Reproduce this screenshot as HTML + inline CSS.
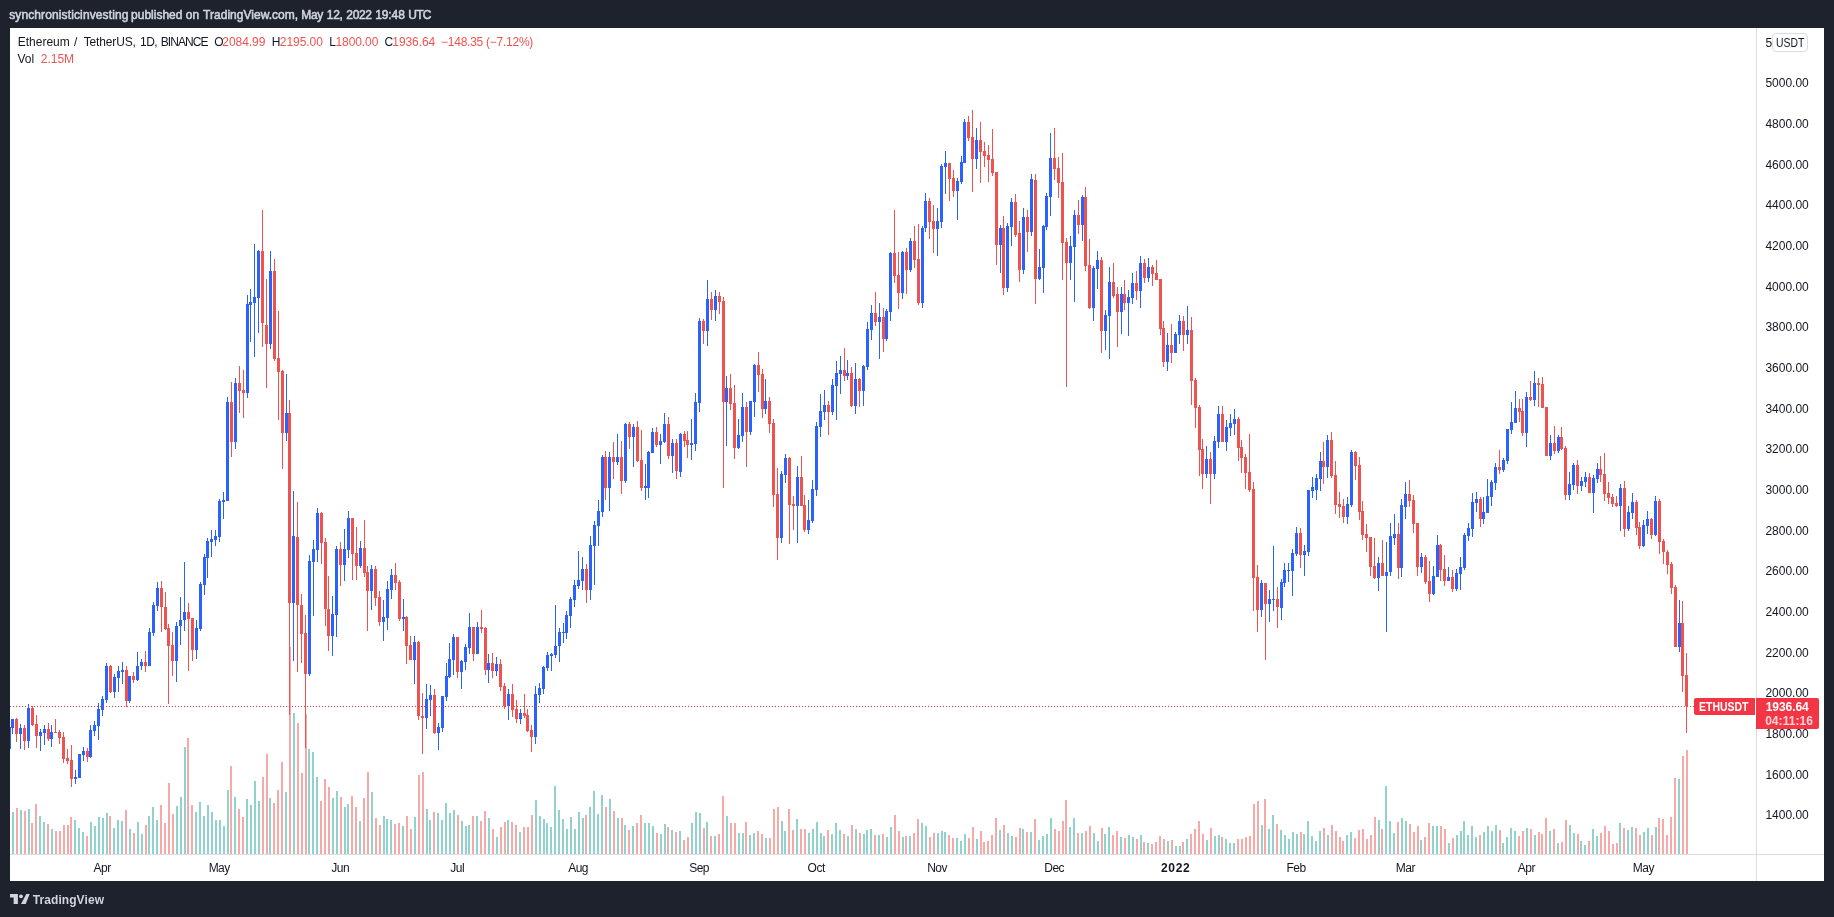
<!DOCTYPE html>
<html><head><meta charset="utf-8"><title>ETHUSDT</title>
<style>
html,body{margin:0;padding:0}
body{width:1834px;height:917px;background:#1e222d;position:relative;overflow:hidden;font-family:"Liberation Sans",sans-serif}
#pane{position:absolute;left:10px;top:28px;width:1814px;height:853px;background:#fff}
span{position:absolute;white-space:nowrap;line-height:14px}
.box{position:absolute}
</style></head><body>
<div id="pane"></div>
<svg width="1834" height="917" viewBox="0 0 1834 917" style="position:absolute;left:0;top:0" shape-rendering="crispEdges"><path d="M12 812h2v42h-2zM20 810h2v44h-2zM28 809h2v45h-2zM39 816h2v38h-2zM43 822h2v32h-2zM51 829h2v25h-2zM74 820h2v34h-2zM78 828h2v26h-2zM82 832h2v22h-2zM90 822h2v32h-2zM94 826h2v28h-2zM98 817h2v37h-2zM102 818h2v36h-2zM106 813h2v41h-2zM113 828h2v26h-2zM117 820h2v34h-2zM121 821h2v33h-2zM129 829h2v25h-2zM137 822h2v32h-2zM141 834h2v20h-2zM148 816h2v38h-2zM152 807h2v47h-2zM156 820h2v34h-2zM176 806h2v48h-2zM180 797h2v57h-2zM184 747h2v107h-2zM195 812h2v42h-2zM199 802h2v52h-2zM203 816h2v38h-2zM207 805h2v49h-2zM211 812h2v42h-2zM215 820h2v34h-2zM219 820h2v34h-2zM223 826h2v28h-2zM227 790h2v64h-2zM234 797h2v57h-2zM246 799h2v55h-2zM250 805h2v49h-2zM254 781h2v73h-2zM258 801h2v53h-2zM269 798h2v56h-2zM285 792h2v62h-2zM293 713h2v141h-2zM308 749h2v105h-2zM312 752h2v102h-2zM316 777h2v77h-2zM332 798h2v56h-2zM336 791h2v63h-2zM344 807h2v47h-2zM347 804h2v50h-2zM359 821h2v33h-2zM371 792h2v62h-2zM383 816h2v38h-2zM386 819h2v35h-2zM390 820h2v34h-2zM402 826h2v28h-2zM414 817h2v37h-2zM426 809h2v45h-2zM429 820h2v34h-2zM437 813h2v41h-2zM441 820h2v34h-2zM445 803h2v51h-2zM449 813h2v41h-2zM453 810h2v44h-2zM461 821h2v33h-2zM465 826h2v28h-2zM468 825h2v29h-2zM476 816h2v38h-2zM488 818h2v36h-2zM496 837h2v17h-2zM507 820h2v34h-2zM519 832h2v22h-2zM535 800h2v54h-2zM539 816h2v38h-2zM543 819h2v35h-2zM546 823h2v31h-2zM550 827h2v27h-2zM554 786h2v68h-2zM558 810h2v44h-2zM562 819h2v35h-2zM566 829h2v25h-2zM570 817h2v37h-2zM574 829h2v25h-2zM578 812h2v42h-2zM582 818h2v36h-2zM589 807h2v47h-2zM593 791h2v63h-2zM597 814h2v40h-2zM601 795h2v59h-2zM609 799h2v55h-2zM617 818h2v36h-2zM624 825h2v29h-2zM632 826h2v28h-2zM644 823h2v31h-2zM648 823h2v31h-2zM652 826h2v28h-2zM660 834h2v20h-2zM664 824h2v30h-2zM671 830h2v24h-2zM679 831h2v23h-2zM691 823h2v31h-2zM695 812h2v42h-2zM699 813h2v41h-2zM706 822h2v32h-2zM714 836h2v18h-2zM726 816h2v38h-2zM738 833h2v21h-2zM742 833h2v21h-2zM749 835h2v19h-2zM753 833h2v21h-2zM765 838h2v16h-2zM781 821h2v33h-2zM784 831h2v23h-2zM796 819h2v35h-2zM808 833h2v21h-2zM812 829h2v25h-2zM816 822h2v32h-2zM820 833h2v21h-2zM823 836h2v18h-2zM831 834h2v20h-2zM835 823h2v31h-2zM839 830h2v24h-2zM847 836h2v18h-2zM855 829h2v25h-2zM863 834h2v20h-2zM866 830h2v24h-2zM870 829h2v25h-2zM878 835h2v19h-2zM886 837h2v17h-2zM890 827h2v27h-2zM902 837h2v17h-2zM909 836h2v18h-2zM921 823h2v31h-2zM925 826h2v28h-2zM937 833h2v21h-2zM941 831h2v23h-2zM944 832h2v22h-2zM956 838h2v16h-2zM960 841h2v13h-2zM964 834h2v20h-2zM976 839h2v15h-2zM999 830h2v24h-2zM1007 833h2v21h-2zM1011 836h2v18h-2zM1022 829h2v25h-2zM1030 832h2v22h-2zM1038 840h2v14h-2zM1042 836h2v18h-2zM1046 834h2v20h-2zM1050 818h2v36h-2zM1069 827h2v27h-2zM1073 818h2v36h-2zM1081 833h2v21h-2zM1093 833h2v21h-2zM1097 841h2v13h-2zM1104 834h2v20h-2zM1108 827h2v27h-2zM1120 837h2v17h-2zM1128 835h2v19h-2zM1132 837h2v17h-2zM1140 835h2v19h-2zM1147 843h2v11h-2zM1167 841h2v13h-2zM1175 846h2v8h-2zM1179 846h2v8h-2zM1186 839h2v15h-2zM1206 840h2v14h-2zM1214 836h2v18h-2zM1218 835h2v19h-2zM1225 839h2v15h-2zM1229 843h2v11h-2zM1233 843h2v11h-2zM1261 825h2v29h-2zM1268 829h2v25h-2zM1272 815h2v39h-2zM1280 830h2v24h-2zM1284 835h2v19h-2zM1288 839h2v15h-2zM1292 832h2v22h-2zM1296 834h2v20h-2zM1303 834h2v20h-2zM1307 821h2v33h-2zM1311 836h2v18h-2zM1315 841h2v13h-2zM1319 831h2v23h-2zM1327 835h2v19h-2zM1346 835h2v19h-2zM1350 832h2v22h-2zM1378 820h2v34h-2zM1385 786h2v68h-2zM1389 821h2v33h-2zM1393 833h2v21h-2zM1401 818h2v36h-2zM1405 821h2v33h-2zM1420 840h2v14h-2zM1432 826h2v28h-2zM1436 826h2v28h-2zM1448 843h2v11h-2zM1456 835h2v19h-2zM1460 831h2v23h-2zM1463 821h2v33h-2zM1467 835h2v19h-2zM1471 826h2v28h-2zM1475 837h2v17h-2zM1483 832h2v22h-2zM1487 826h2v28h-2zM1491 831h2v23h-2zM1495 825h2v29h-2zM1502 843h2v11h-2zM1506 837h2v17h-2zM1510 828h2v26h-2zM1514 831h2v23h-2zM1526 828h2v26h-2zM1534 835h2v19h-2zM1549 831h2v23h-2zM1557 843h2v11h-2zM1569 825h2v29h-2zM1573 833h2v21h-2zM1580 841h2v13h-2zM1584 845h2v9h-2zM1592 829h2v25h-2zM1596 836h2v18h-2zM1619 823h2v31h-2zM1627 830h2v24h-2zM1631 827h2v27h-2zM1643 832h2v22h-2zM1647 828h2v26h-2zM1655 827h2v27h-2zM1678 779h2v75h-2z" fill="#92d2cc"/><path d="M16 808h2v46h-2zM24 811h2v43h-2zM31 823h2v31h-2zM35 804h2v50h-2zM47 824h2v30h-2zM55 831h2v23h-2zM59 831h2v23h-2zM63 825h2v29h-2zM67 825h2v29h-2zM70 817h2v37h-2zM86 836h2v18h-2zM109 816h2v38h-2zM125 810h2v44h-2zM133 833h2v21h-2zM145 825h2v29h-2zM160 805h2v49h-2zM164 823h2v31h-2zM168 783h2v71h-2zM172 814h2v40h-2zM187 738h2v116h-2zM191 805h2v49h-2zM230 766h2v88h-2zM238 809h2v45h-2zM242 817h2v37h-2zM262 777h2v77h-2zM266 754h2v100h-2zM273 803h2v51h-2zM277 790h2v64h-2zM281 762h2v92h-2zM289 647h2v207h-2zM297 723h2v131h-2zM301 773h2v81h-2zM305 714h2v140h-2zM320 801h2v53h-2zM324 779h2v75h-2zM328 787h2v67h-2zM340 797h2v57h-2zM351 796h2v58h-2zM355 807h2v47h-2zM363 798h2v56h-2zM367 772h2v82h-2zM375 818h2v36h-2zM379 825h2v29h-2zM394 824h2v30h-2zM398 823h2v31h-2zM406 816h2v38h-2zM410 829h2v25h-2zM418 775h2v79h-2zM422 772h2v82h-2zM433 812h2v42h-2zM457 815h2v39h-2zM472 816h2v38h-2zM480 821h2v33h-2zM484 811h2v43h-2zM492 829h2v25h-2zM500 827h2v27h-2zM504 822h2v32h-2zM511 822h2v32h-2zM515 825h2v29h-2zM523 827h2v27h-2zM527 827h2v27h-2zM531 815h2v39h-2zM585 815h2v39h-2zM605 807h2v47h-2zM613 811h2v43h-2zM621 818h2v36h-2zM628 830h2v24h-2zM636 823h2v31h-2zM640 815h2v39h-2zM656 833h2v21h-2zM667 827h2v27h-2zM675 832h2v22h-2zM683 840h2v14h-2zM687 837h2v17h-2zM703 828h2v26h-2zM710 836h2v18h-2zM718 834h2v20h-2zM722 796h2v58h-2zM730 823h2v31h-2zM734 823h2v31h-2zM745 822h2v32h-2zM757 831h2v23h-2zM761 834h2v20h-2zM769 838h2v16h-2zM773 809h2v45h-2zM777 807h2v47h-2zM788 809h2v45h-2zM792 830h2v24h-2zM800 829h2v25h-2zM804 829h2v25h-2zM827 830h2v24h-2zM843 834h2v20h-2zM851 825h2v29h-2zM859 833h2v21h-2zM874 835h2v19h-2zM882 834h2v20h-2zM894 815h2v39h-2zM898 831h2v23h-2zM905 836h2v18h-2zM913 833h2v21h-2zM917 819h2v35h-2zM929 837h2v17h-2zM933 833h2v21h-2zM948 835h2v19h-2zM952 838h2v16h-2zM968 838h2v16h-2zM972 827h2v27h-2zM980 831h2v23h-2zM983 842h2v12h-2zM987 841h2v13h-2zM991 835h2v19h-2zM995 818h2v36h-2zM1003 825h2v29h-2zM1015 837h2v17h-2zM1019 828h2v26h-2zM1026 832h2v22h-2zM1034 819h2v35h-2zM1054 829h2v25h-2zM1058 831h2v23h-2zM1062 821h2v33h-2zM1065 800h2v54h-2zM1077 833h2v21h-2zM1085 831h2v23h-2zM1089 826h2v28h-2zM1101 828h2v26h-2zM1112 835h2v19h-2zM1116 831h2v23h-2zM1124 838h2v16h-2zM1136 839h2v15h-2zM1143 842h2v12h-2zM1151 844h2v10h-2zM1155 842h2v12h-2zM1159 836h2v18h-2zM1163 839h2v15h-2zM1171 840h2v14h-2zM1182 842h2v12h-2zM1190 834h2v20h-2zM1194 829h2v25h-2zM1198 821h2v33h-2zM1202 834h2v20h-2zM1210 828h2v26h-2zM1221 837h2v17h-2zM1237 839h2v15h-2zM1241 839h2v15h-2zM1245 837h2v17h-2zM1249 836h2v18h-2zM1253 804h2v50h-2zM1257 801h2v53h-2zM1264 799h2v55h-2zM1276 824h2v30h-2zM1300 832h2v22h-2zM1323 828h2v26h-2zM1331 825h2v29h-2zM1335 831h2v23h-2zM1339 837h2v17h-2zM1342 841h2v13h-2zM1354 838h2v16h-2zM1358 830h2v24h-2zM1362 829h2v25h-2zM1366 839h2v15h-2zM1370 835h2v19h-2zM1374 817h2v37h-2zM1381 829h2v25h-2zM1397 822h2v32h-2zM1409 824h2v30h-2zM1413 832h2v22h-2zM1417 826h2v28h-2zM1424 837h2v17h-2zM1428 823h2v31h-2zM1440 826h2v28h-2zM1444 829h2v25h-2zM1452 838h2v16h-2zM1479 835h2v19h-2zM1499 830h2v24h-2zM1518 836h2v18h-2zM1522 831h2v23h-2zM1530 829h2v25h-2zM1538 832h2v22h-2zM1541 834h2v20h-2zM1545 818h2v36h-2zM1553 829h2v25h-2zM1561 842h2v12h-2zM1565 820h2v34h-2zM1577 834h2v20h-2zM1588 841h2v13h-2zM1600 833h2v21h-2zM1604 826h2v28h-2zM1608 831h2v23h-2zM1612 844h2v10h-2zM1616 843h2v11h-2zM1623 828h2v26h-2zM1635 828h2v26h-2zM1639 835h2v19h-2zM1651 835h2v19h-2zM1658 818h2v36h-2zM1662 819h2v35h-2zM1666 835h2v19h-2zM1670 817h2v37h-2zM1674 778h2v76h-2zM1682 756h2v98h-2zM1686 750h2v104h-2z" fill="#f7a9a7"/><path d="M16 718h1v24h-1zM15 719h3v15h-3zM24 725h1v25h-1zM23 728h3v13h-3zM32 706h1v20h-1zM31 708h3v17h-3zM36 715h1v33h-1zM35 724h3v12h-3zM48 723h1v18h-1zM47 729h3v10h-3zM55 719h1v14h-1zM54 732h3v1h-3zM59 730h1v14h-1zM58 732h3v6h-3zM63 732h1v31h-1zM62 737h3v22h-3zM67 749h1v15h-1zM66 758h3v3h-3zM71 745h1v42h-1zM70 760h3v19h-3zM87 748h1v14h-1zM86 751h3v6h-3zM110 665h1v28h-1zM109 666h3v26h-3zM126 666h1v41h-1zM125 670h3v31h-3zM133 672h1v11h-1zM132 676h3v4h-3zM145 651h1v21h-1zM144 662h3v4h-3zM161 581h1v51h-1zM160 588h3v19h-3zM165 592h1v38h-1zM164 607h3v22h-3zM168 624h1v80h-1zM167 628h3v18h-3zM172 632h1v44h-1zM171 645h3v16h-3zM188 603h1v68h-1zM187 612h3v7h-3zM192 618h1v43h-1zM191 618h3v32h-3zM231 382h1v75h-1zM230 402h3v40h-3zM239 366h1v47h-1zM238 383h3v8h-3zM243 370h1v48h-1zM242 390h3v3h-3zM262 210h1v137h-1zM261 251h3v72h-3zM266 279h1v109h-1zM265 325h3v19h-3zM274 259h1v102h-1zM273 271h3v88h-3zM278 311h1v109h-1zM277 358h3v14h-3zM282 370h1v99h-1zM281 371h3v62h-3zM289 400h1v315h-1zM288 413h3v190h-3zM297 502h1v170h-1zM296 537h3v68h-3zM301 594h1v69h-1zM300 605h3v29h-3zM305 615h1v133h-1zM304 633h3v41h-3zM321 512h1v52h-1zM320 513h3v30h-3zM325 538h1v88h-1zM324 542h3v67h-3zM328 576h1v75h-1zM327 609h3v27h-3zM340 542h1v44h-1zM339 549h3v16h-3zM352 518h1v62h-1zM351 518h3v36h-3zM356 527h1v53h-1zM355 553h3v13h-3zM364 520h1v57h-1zM363 548h3v25h-3zM367 566h1v65h-1zM366 572h3v19h-3zM375 566h1v40h-1zM374 569h3v29h-3zM379 591h1v35h-1zM378 597h3v25h-3zM395 563h1v27h-1zM394 575h3v8h-3zM399 580h1v41h-1zM398 582h3v37h-3zM406 616h1v48h-1zM405 617h3v29h-3zM410 636h1v24h-1zM409 645h3v15h-3zM418 641h1v79h-1zM417 642h3v74h-3zM422 693h1v61h-1zM421 716h3v2h-3zM434 689h1v45h-1zM433 695h3v38h-3zM457 637h1v41h-1zM456 637h3v35h-3zM473 627h1v34h-1zM472 627h3v27h-3zM481 610h1v23h-1zM480 627h3v2h-3zM485 627h1v48h-1zM484 628h3v42h-3zM492 653h1v25h-1zM491 663h3v8h-3zM500 659h1v32h-1zM499 664h3v23h-3zM504 683h1v26h-1zM503 686h3v20h-3zM512 684h1v33h-1zM511 694h3v16h-3zM516 700h1v23h-1zM515 709h3v10h-3zM524 694h1v24h-1zM523 713h3v3h-3zM527 709h1v23h-1zM526 715h3v16h-3zM531 725h1v27h-1zM530 730h3v7h-3zM586 564h1v39h-1zM585 569h3v21h-3zM605 451h1v49h-1zM604 457h3v31h-3zM613 442h1v37h-1zM612 457h3v5h-3zM621 441h1v53h-1zM620 457h3v24h-3zM629 422h1v27h-1zM628 424h3v13h-3zM637 421h1v41h-1zM636 427h3v34h-3zM641 430h1v61h-1zM640 460h3v28h-3zM656 427h1v20h-1zM655 432h3v13h-3zM668 417h1v42h-1zM667 424h3v32h-3zM676 439h1v40h-1zM675 443h3v28h-3zM684 431h1v16h-1zM683 434h3v7h-3zM687 431h1v27h-1zM686 440h3v5h-3zM703 319h1v25h-1zM702 321h3v10h-3zM711 292h1v28h-1zM710 299h3v11h-3zM719 292h1v22h-1zM718 296h3v6h-3zM723 297h1v191h-1zM722 301h3v101h-3zM730 374h1v36h-1zM729 388h3v16h-3zM734 385h1v74h-1zM733 403h3v45h-3zM746 402h1v65h-1zM745 407h3v25h-3zM758 352h1v40h-1zM757 365h3v10h-3zM762 369h1v49h-1zM761 374h3v35h-3zM769 397h1v36h-1zM768 401h3v23h-3zM773 419h1v88h-1zM772 423h3v72h-3zM777 468h1v92h-1zM776 494h3v44h-3zM789 457h1v87h-1zM788 458h3v47h-3zM793 496h1v34h-1zM792 504h3v2h-3zM801 456h1v50h-1zM800 477h3v29h-3zM804 495h1v37h-1zM803 505h3v25h-3zM828 401h1v34h-1zM827 405h3v7h-3zM844 348h1v33h-1zM843 370h3v6h-3zM851 367h1v40h-1zM850 373h3v33h-3zM859 378h1v29h-1zM858 379h3v12h-3zM875 292h1v34h-1zM874 313h3v9h-3zM883 308h1v44h-1zM882 317h3v22h-3zM894 210h1v73h-1zM893 253h3v23h-3zM898 252h1v57h-1zM897 275h3v18h-3zM906 248h1v46h-1zM905 252h3v18h-3zM914 226h1v42h-1zM913 241h3v19h-3zM918 224h1v81h-1zM917 259h3v44h-3zM929 198h1v41h-1zM928 201h3v21h-3zM933 205h1v48h-1zM932 221h3v8h-3zM949 163h1v38h-1zM948 163h3v16h-3zM953 170h1v27h-1zM952 178h3v13h-3zM968 116h1v25h-1zM967 122h3v16h-3zM972 110h1v82h-1zM971 137h3v22h-3zM980 122h1v61h-1zM979 140h3v12h-3zM984 142h1v25h-1zM983 151h3v5h-3zM988 145h1v37h-1zM987 155h3v5h-3zM992 129h1v47h-1zM991 159h3v14h-3zM996 172h1v93h-1zM995 172h3v73h-3zM1003 216h1v79h-1zM1002 228h3v60h-3zM1015 194h1v43h-1zM1014 202h3v33h-3zM1019 221h1v61h-1zM1018 233h3v37h-3zM1027 210h1v42h-1zM1026 217h3v15h-3zM1035 174h1v130h-1zM1034 180h3v99h-3zM1054 128h1v52h-1zM1053 158h3v11h-3zM1058 157h1v41h-1zM1057 168h3v15h-3zM1062 153h1v127h-1zM1061 182h3v61h-3zM1066 238h1v149h-1zM1065 242h3v21h-3zM1078 200h1v34h-1zM1077 215h3v10h-3zM1085 187h1v84h-1zM1084 197h3v69h-3zM1089 239h1v70h-1zM1088 265h3v43h-3zM1101 257h1v96h-1zM1100 260h3v71h-3zM1113 263h1v35h-1zM1112 282h3v14h-3zM1117 287h1v60h-1zM1116 294h3v18h-3zM1124 280h1v30h-1zM1123 294h3v9h-3zM1136 271h1v29h-1zM1135 283h3v8h-3zM1144 259h1v24h-1zM1143 263h3v15h-3zM1152 265h1v21h-1zM1151 267h3v7h-3zM1156 260h1v20h-1zM1155 273h3v7h-3zM1160 279h1v56h-1zM1159 279h3v50h-3zM1163 321h1v46h-1zM1162 328h3v34h-3zM1171 324h1v39h-1zM1170 345h3v8h-3zM1183 316h1v35h-1zM1182 321h3v14h-3zM1191 317h1v88h-1zM1190 330h3v51h-3zM1195 378h1v50h-1zM1194 380h3v28h-3zM1199 405h1v71h-1zM1198 407h3v43h-3zM1202 439h1v50h-1zM1201 449h3v25h-3zM1210 452h1v52h-1zM1209 459h3v15h-3zM1222 406h1v36h-1zM1221 414h3v28h-3zM1238 417h1v44h-1zM1237 419h3v29h-3zM1241 440h1v33h-1zM1240 447h3v11h-3zM1245 454h1v35h-1zM1244 457h3v16h-3zM1249 434h1v58h-1zM1248 472h3v18h-3zM1253 482h1v129h-1zM1252 489h3v89h-3zM1257 565h1v67h-1zM1256 577h3v33h-3zM1265 583h1v77h-1zM1264 583h3v21h-3zM1277 587h1v41h-1zM1276 599h3v8h-3zM1300 528h1v40h-1zM1299 533h3v22h-3zM1323 442h1v42h-1zM1322 461h3v6h-3zM1331 432h1v46h-1zM1330 440h3v36h-3zM1335 461h1v53h-1zM1334 475h3v30h-3zM1339 492h1v26h-1zM1338 504h3v3h-3zM1343 499h1v24h-1zM1342 506h3v11h-3zM1355 451h1v29h-1zM1354 452h3v14h-3zM1359 457h1v63h-1zM1358 465h3v47h-3zM1362 501h1v39h-1zM1361 511h3v24h-3zM1366 524h1v28h-1zM1365 534h3v4h-3zM1370 537h1v39h-1zM1369 537h3v30h-3zM1374 538h1v41h-1zM1373 566h3v12h-3zM1382 540h1v36h-1zM1381 563h3v13h-3zM1398 523h1v56h-1zM1397 534h3v34h-3zM1409 480h1v27h-1zM1408 494h3v7h-3zM1413 495h1v38h-1zM1412 500h3v24h-3zM1417 523h1v53h-1zM1416 523h3v44h-3zM1425 555h1v29h-1zM1424 557h3v25h-3zM1429 561h1v41h-1zM1428 581h3v13h-3zM1440 544h1v37h-1zM1439 545h3v25h-3zM1444 555h1v31h-1zM1443 569h3v12h-3zM1452 570h1v22h-1zM1451 577h3v12h-3zM1480 497h1v30h-1zM1479 499h3v20h-3zM1499 450h1v24h-1zM1498 467h3v3h-3zM1519 399h1v23h-1zM1518 408h3v4h-3zM1522 399h1v37h-1zM1521 411h3v22h-3zM1530 381h1v20h-1zM1529 397h3v3h-3zM1538 378h1v29h-1zM1537 383h3v2h-3zM1542 377h1v31h-1zM1541 384h3v24h-3zM1546 407h1v49h-1zM1545 407h3v49h-3zM1554 426h1v28h-1zM1553 443h3v8h-3zM1561 427h1v23h-1zM1560 437h3v12h-3zM1565 446h1v54h-1zM1564 448h3v47h-3zM1577 460h1v34h-1zM1576 465h3v21h-3zM1589 473h1v20h-1zM1588 477h3v16h-3zM1600 456h1v26h-1zM1599 469h3v6h-3zM1604 453h1v48h-1zM1603 474h3v20h-3zM1608 482h1v22h-1zM1607 493h3v5h-3zM1612 494h1v13h-1zM1611 497h3v7h-3zM1616 496h1v11h-1zM1615 503h3v3h-3zM1624 481h1v56h-1zM1623 488h3v41h-3zM1636 500h1v35h-1zM1635 502h3v26h-3zM1639 522h1v27h-1zM1638 527h3v19h-3zM1651 518h1v21h-1zM1650 519h3v16h-3zM1659 499h1v55h-1zM1658 501h3v41h-3zM1663 539h1v25h-1zM1662 541h3v11h-3zM1667 550h1v24h-1zM1666 552h3v13h-3zM1671 562h1v32h-1zM1670 564h3v24h-3zM1675 585h1v62h-1zM1674 587h3v60h-3zM1682 601h1v91h-1zM1681 623h3v53h-3zM1686 653h1v80h-1zM1685 675h3v31h-3z" fill="#ef5350"/><path d="M10 727h1v22h-1zM12 719h1v15h-1zM11 719h3v9h-3zM20 724h1v25h-1zM19 728h3v6h-3zM28 704h1v44h-1zM27 708h3v33h-3zM40 729h1v22h-1zM39 732h3v4h-3zM44 725h1v20h-1zM43 729h3v4h-3zM51 725h1v22h-1zM50 732h3v7h-3zM75 770h1v14h-1zM74 777h3v2h-3zM79 754h1v24h-1zM78 754h3v24h-3zM83 747h1v14h-1zM82 751h3v4h-3zM90 725h1v33h-1zM89 730h3v27h-3zM94 721h1v15h-1zM93 725h3v6h-3zM98 703h1v37h-1zM97 709h3v17h-3zM102 696h1v20h-1zM101 699h3v11h-3zM106 663h1v40h-1zM105 666h3v34h-3zM114 674h1v24h-1zM113 677h3v15h-3zM118 666h1v26h-1zM117 671h3v7h-3zM122 662h1v22h-1zM121 670h3v2h-3zM129 676h1v27h-1zM128 676h3v25h-3zM137 652h1v29h-1zM136 666h3v14h-3zM141 659h1v11h-1zM140 662h3v4h-3zM149 628h1v38h-1zM148 632h3v34h-3zM153 602h1v34h-1zM152 605h3v28h-3zM157 582h1v29h-1zM156 588h3v18h-3zM176 622h1v60h-1zM175 626h3v35h-3zM180 597h1v48h-1zM179 620h3v6h-3zM184 562h1v69h-1zM183 612h3v8h-3zM196 620h1v39h-1zM195 628h3v22h-3zM200 582h1v49h-1zM199 584h3v45h-3zM204 554h1v41h-1zM203 557h3v28h-3zM207 538h1v40h-1zM206 541h3v17h-3zM211 530h1v27h-1zM210 539h3v3h-3zM215 530h1v16h-1zM214 536h3v4h-3zM219 499h1v43h-1zM218 501h3v36h-3zM223 492h1v27h-1zM222 500h3v2h-3zM227 397h1v104h-1zM226 402h3v99h-3zM235 378h1v71h-1zM234 383h3v59h-3zM247 295h1v103h-1zM246 304h3v89h-3zM250 289h1v53h-1zM249 302h3v3h-3zM254 244h1v113h-1zM253 297h3v6h-3zM258 250h1v83h-1zM257 251h3v47h-3zM270 251h1v98h-1zM269 271h3v73h-3zM286 374h1v67h-1zM285 413h3v20h-3zM293 491h1v170h-1zM292 536h3v67h-3zM309 555h1v121h-1zM308 561h3v113h-3zM313 540h1v76h-1zM312 549h3v13h-3zM317 508h1v54h-1zM316 513h3v37h-3zM332 596h1v60h-1zM331 614h3v22h-3zM336 546h1v91h-1zM335 549h3v66h-3zM344 529h1v52h-1zM343 549h3v16h-3zM348 511h1v47h-1zM347 518h3v32h-3zM360 541h1v27h-1zM359 548h3v18h-3zM371 565h1v45h-1zM370 569h3v22h-3zM383 600h1v41h-1zM382 617h3v5h-3zM387 581h1v49h-1zM386 589h3v29h-3zM391 569h1v30h-1zM390 575h3v15h-3zM403 599h1v32h-1zM402 617h3v2h-3zM414 636h1v48h-1zM413 642h3v18h-3zM426 684h1v45h-1zM425 699h3v19h-3zM430 685h1v31h-1zM429 695h3v5h-3zM438 723h1v27h-1zM437 727h3v6h-3zM442 696h1v36h-1zM441 696h3v32h-3zM446 663h1v38h-1zM445 676h3v21h-3zM449 643h1v35h-1zM448 659h3v18h-3zM453 634h1v41h-1zM452 637h3v23h-3zM461 660h1v29h-1zM460 661h3v11h-3zM465 644h1v26h-1zM464 647h3v15h-3zM469 613h1v41h-1zM468 627h3v21h-3zM477 622h1v32h-1zM476 627h3v27h-3zM488 654h1v29h-1zM487 663h3v7h-3zM496 657h1v19h-1zM495 664h3v7h-3zM508 689h1v31h-1zM507 694h3v12h-3zM520 709h1v15h-1zM519 713h3v6h-3zM535 686h1v58h-1zM534 694h3v43h-3zM539 683h1v20h-1zM538 688h3v7h-3zM543 666h1v28h-1zM542 667h3v22h-3zM547 652h1v19h-1zM546 655h3v13h-3zM551 653h1v18h-1zM550 654h3v2h-3zM555 605h1v53h-1zM554 646h3v9h-3zM559 628h1v34h-1zM558 632h3v14h-3zM563 623h1v20h-1zM562 632h3v1h-3zM566 611h1v28h-1zM565 615h3v18h-3zM570 597h1v31h-1zM569 599h3v17h-3zM574 580h1v27h-1zM573 585h3v15h-3zM578 551h1v38h-1zM577 580h3v6h-3zM582 557h1v33h-1zM581 569h3v12h-3zM590 536h1v64h-1zM589 545h3v45h-3zM594 521h1v64h-1zM593 525h3v21h-3zM598 500h1v46h-1zM597 511h3v15h-3zM602 455h1v62h-1zM601 457h3v55h-3zM609 452h1v59h-1zM608 457h3v31h-3zM617 434h1v31h-1zM616 457h3v5h-3zM625 423h1v60h-1zM624 424h3v57h-3zM633 424h1v43h-1zM632 427h3v10h-3zM645 464h1v36h-1zM644 486h3v2h-3zM648 451h1v47h-1zM647 452h3v36h-3zM652 428h1v25h-1zM651 432h3v21h-3zM660 434h1v30h-1zM659 441h3v4h-3zM664 413h1v30h-1zM663 424h3v18h-3zM672 439h1v34h-1zM671 443h3v13h-3zM680 433h1v44h-1zM679 434h3v38h-3zM691 419h1v41h-1zM690 443h3v2h-3zM695 393h1v58h-1zM694 402h3v42h-3zM699 318h1v94h-1zM698 321h3v82h-3zM707 280h1v66h-1zM706 299h3v32h-3zM715 290h1v31h-1zM714 296h3v14h-3zM726 376h1v70h-1zM725 388h3v14h-3zM738 419h1v30h-1zM737 435h3v13h-3zM742 393h1v49h-1zM741 407h3v29h-3zM750 401h1v34h-1zM749 401h3v31h-3zM754 364h1v53h-1zM753 365h3v37h-3zM765 379h1v35h-1zM764 401h3v8h-3zM781 471h1v72h-1zM780 474h3v64h-3zM785 454h1v29h-1zM784 458h3v17h-3zM797 466h1v77h-1zM796 477h3v29h-3zM808 500h1v34h-1zM807 520h3v10h-3zM812 480h1v43h-1zM811 489h3v32h-3zM816 422h1v74h-1zM815 426h3v64h-3zM820 394h1v43h-1zM819 411h3v16h-3zM824 390h1v30h-1zM823 405h3v7h-3zM832 379h1v36h-1zM831 385h3v27h-3zM836 361h1v59h-1zM835 373h3v13h-3zM840 356h1v38h-1zM839 370h3v4h-3zM847 360h1v20h-1zM846 373h3v3h-3zM855 363h1v51h-1zM854 379h3v27h-3zM863 365h1v41h-1zM862 366h3v25h-3zM867 322h1v48h-1zM866 329h3v38h-3zM871 305h1v35h-1zM870 313h3v17h-3zM879 303h1v56h-1zM878 317h3v5h-3zM886 309h1v32h-1zM885 311h3v28h-3zM890 252h1v69h-1zM889 253h3v59h-3zM902 251h1v48h-1zM901 252h3v41h-3zM910 238h1v34h-1zM909 241h3v29h-3zM922 226h1v82h-1zM921 228h3v75h-3zM925 193h1v39h-1zM924 201h3v27h-3zM937 208h1v48h-1zM936 221h3v8h-3zM941 164h1v64h-1zM940 166h3v56h-3zM945 151h1v43h-1zM944 163h3v4h-3zM957 178h1v42h-1zM956 181h3v10h-3zM961 156h1v28h-1zM960 162h3v20h-3zM964 119h1v44h-1zM963 122h3v41h-3zM976 128h1v41h-1zM975 140h3v19h-3zM1000 225h1v48h-1zM999 228h3v17h-3zM1007 223h1v69h-1zM1006 226h3v62h-3zM1011 198h1v48h-1zM1010 202h3v25h-3zM1023 208h1v66h-1zM1022 217h3v53h-3zM1031 174h1v62h-1zM1030 179h3v53h-3zM1039 249h1v31h-1zM1038 267h3v12h-3zM1043 225h1v68h-1zM1042 226h3v42h-3zM1046 193h1v37h-1zM1045 196h3v31h-3zM1050 133h1v83h-1zM1049 158h3v39h-3zM1070 236h1v44h-1zM1069 246h3v17h-3zM1074 210h1v92h-1zM1073 215h3v32h-3zM1082 195h1v46h-1zM1081 197h3v28h-3zM1093 266h1v55h-1zM1092 268h3v40h-3zM1097 251h1v38h-1zM1096 260h3v9h-3zM1105 310h1v40h-1zM1104 315h3v16h-3zM1109 267h1v92h-1zM1108 282h3v34h-3zM1121 287h1v47h-1zM1120 294h3v18h-3zM1128 290h1v46h-1zM1127 297h3v6h-3zM1132 273h1v31h-1zM1131 283h3v15h-3zM1140 256h1v52h-1zM1139 263h3v28h-3zM1148 258h1v24h-1zM1147 267h3v11h-3zM1167 333h1v38h-1zM1166 345h3v17h-3zM1175 332h1v21h-1zM1174 334h3v19h-3zM1179 315h1v29h-1zM1178 321h3v14h-3zM1187 306h1v38h-1zM1186 330h3v5h-3zM1206 446h1v32h-1zM1205 459h3v15h-3zM1214 436h1v43h-1zM1213 441h3v33h-3zM1218 406h1v42h-1zM1217 414h3v28h-3zM1226 420h1v31h-1zM1225 427h3v15h-3zM1230 414h1v22h-1zM1229 423h3v5h-3zM1234 409h1v26h-1zM1233 419h3v5h-3zM1261 580h1v37h-1zM1260 583h3v27h-3zM1269 590h1v32h-1zM1268 599h3v5h-3zM1273 546h1v65h-1zM1272 599h3v1h-3zM1281 579h1v41h-1zM1280 582h3v26h-3zM1284 563h1v24h-1zM1283 570h3v13h-3zM1288 563h1v19h-1zM1287 570h3v1h-3zM1292 549h1v47h-1zM1291 553h3v18h-3zM1296 527h1v29h-1zM1295 533h3v21h-3zM1304 545h1v31h-1zM1303 551h3v4h-3zM1308 490h1v66h-1zM1307 490h3v62h-3zM1312 477h1v21h-1zM1311 487h3v4h-3zM1316 474h1v26h-1zM1315 478h3v12h-3zM1320 452h1v39h-1zM1319 461h3v18h-3zM1327 435h1v43h-1zM1326 440h3v27h-3zM1347 497h1v27h-1zM1346 504h3v13h-3zM1351 450h1v57h-1zM1350 452h3v53h-3zM1378 557h1v34h-1zM1377 563h3v15h-3zM1386 542h1v90h-1zM1385 572h3v4h-3zM1390 523h1v53h-1zM1389 536h3v36h-3zM1394 514h1v31h-1zM1393 534h3v4h-3zM1401 499h1v78h-1zM1400 505h3v63h-3zM1405 482h1v37h-1zM1404 494h3v13h-3zM1421 553h1v20h-1zM1420 557h3v10h-3zM1433 566h1v29h-1zM1432 576h3v18h-3zM1437 535h1v42h-1zM1436 545h3v32h-3zM1448 567h1v14h-1zM1447 577h3v4h-3zM1456 569h1v22h-1zM1455 573h3v16h-3zM1460 557h1v33h-1zM1459 567h3v7h-3zM1464 533h1v37h-1zM1463 535h3v33h-3zM1468 523h1v18h-1zM1467 528h3v8h-3zM1472 493h1v44h-1zM1471 502h3v27h-3zM1476 492h1v20h-1zM1475 499h3v4h-3zM1483 497h1v27h-1zM1482 512h3v7h-3zM1487 479h1v34h-1zM1486 496h3v17h-3zM1491 480h1v26h-1zM1490 482h3v15h-3zM1495 463h1v27h-1zM1494 467h3v16h-3zM1503 458h1v14h-1zM1502 460h3v10h-3zM1507 429h1v35h-1zM1506 429h3v32h-3zM1511 402h1v32h-1zM1510 422h3v8h-3zM1515 391h1v32h-1zM1514 408h3v15h-3zM1526 392h1v55h-1zM1525 397h3v36h-3zM1534 371h1v35h-1zM1533 383h3v17h-3zM1550 435h1v25h-1zM1549 443h3v13h-3zM1558 435h1v18h-1zM1557 437h3v14h-3zM1569 472h1v28h-1zM1568 484h3v11h-3zM1573 463h1v27h-1zM1572 465h3v20h-3zM1581 477h1v14h-1zM1580 481h3v5h-3zM1585 472h1v15h-1zM1584 477h3v5h-3zM1593 475h1v38h-1zM1592 478h3v15h-3zM1597 463h1v20h-1zM1596 469h3v10h-3zM1620 484h1v47h-1zM1619 488h3v18h-3zM1628 506h1v25h-1zM1627 512h3v17h-3zM1632 493h1v26h-1zM1631 502h3v11h-3zM1643 520h1v27h-1zM1642 525h3v21h-3zM1647 511h1v23h-1zM1646 519h3v7h-3zM1655 496h1v40h-1zM1654 501h3v34h-3zM1679 600h1v52h-1zM1678 623h3v24h-3z" fill="#2962ff"/><path d="M10 706.5H1756" stroke="#f23645" stroke-width="1" stroke-dasharray="1 2" fill="none"/><rect x="1756" y="28" width="1" height="853" fill="#dcdde2"/><rect x="10" y="854" width="1814" height="1" fill="#dcdde2"/></svg>
<div class="box" style="left:1694px;top:698px;width:61px;height:17px;background:#f23645;border-radius:2px 0 0 2px"></div>
<div class="box" style="left:1756px;top:698px;width:63px;height:31px;background:#f23645;border-radius:0 2px 2px 0"></div>
<div class="box" style="left:1772px;top:33px;width:34px;height:17px;background:#fff;border:1px solid #dcdde2;border-radius:4px"></div>
<svg width="21" height="11" viewBox="0 0 21 11" style="position:absolute;left:10px;top:894px"><path d="M0 0.1h7.9v9.9h-4.27v-6.4h-3.63z M16.3 0.1h3.4l-4 9.9h-4.7z" fill="#d1d4dc"/><circle cx="11" cy="2.35" r="1.95" fill="#d1d4dc"/></svg>
<div style="position:absolute;left:0;top:0;width:1834px;height:917px;will-change:transform"><span style="left:9.16px;top:8.00px;font-size:12px;font-weight:normal;color:#d1d4dc;letter-spacing:0.122px;-webkit-text-stroke:0.55px #d1d4dc">synchronisticinvesting</span><span style="left:131.06px;top:8.00px;font-size:12px;font-weight:normal;color:#d1d4dc;letter-spacing:0.004px;-webkit-text-stroke:0.55px #d1d4dc">published</span><span style="left:185.76px;top:8.00px;font-size:12px;font-weight:normal;color:#d1d4dc;letter-spacing:0.176px;-webkit-text-stroke:0.55px #d1d4dc">on</span><span style="left:203.06px;top:8.00px;font-size:12px;font-weight:normal;color:#d1d4dc;letter-spacing:0.025px;-webkit-text-stroke:0.55px #d1d4dc">TradingView.com,</span><span style="left:301.26px;top:8.00px;font-size:12px;font-weight:normal;color:#d1d4dc;letter-spacing:-0.287px;-webkit-text-stroke:0.55px #d1d4dc">May</span><span style="left:326.76px;top:8.00px;font-size:12px;font-weight:normal;color:#d1d4dc;letter-spacing:-0.259px;-webkit-text-stroke:0.55px #d1d4dc">12,</span><span style="left:346.36px;top:8.00px;font-size:12px;font-weight:normal;color:#d1d4dc;letter-spacing:-0.398px;-webkit-text-stroke:0.55px #d1d4dc">2022</span><span style="left:375.16px;top:8.00px;font-size:12px;font-weight:normal;color:#d1d4dc;letter-spacing:-0.084px;-webkit-text-stroke:0.55px #d1d4dc">19:48</span><span style="left:408.26px;top:8.00px;font-size:12px;font-weight:normal;color:#d1d4dc;letter-spacing:-0.753px;-webkit-text-stroke:0.55px #d1d4dc">UTC</span><span style="left:17.66px;top:35.00px;font-size:12px;font-weight:normal;color:#131722;letter-spacing:0.010px">Ethereum</span><span style="left:73.96px;top:35.00px;font-size:12px;font-weight:normal;color:#131722;letter-spacing:2.768px">/</span><span style="left:83.76px;top:35.00px;font-size:12px;font-weight:normal;color:#131722;letter-spacing:-0.161px">TetherUS,</span><span style="left:140.06px;top:35.00px;font-size:12px;font-weight:normal;color:#131722;letter-spacing:-0.592px">1D,</span><span style="left:160.66px;top:35.00px;font-size:12px;font-weight:normal;color:#131722;letter-spacing:-0.919px">BINANCE</span><span style="left:214.36px;top:35.00px;font-size:12px;font-weight:normal;color:#131722;letter-spacing:-0.232px">O</span><span style="left:222.36px;top:35.00px;font-size:12px;font-weight:normal;color:#ef5350;letter-spacing:-0.068px">2084.99</span><span style="left:271.66px;top:35.00px;font-size:12px;font-weight:normal;color:#131722;letter-spacing:-0.160px">H</span><span style="left:279.76px;top:35.00px;font-size:12px;font-weight:normal;color:#ef5350;letter-spacing:-0.040px">2195.00</span><span style="left:329.16px;top:35.00px;font-size:12px;font-weight:normal;color:#131722;letter-spacing:0.225px">L</span><span style="left:335.56px;top:35.00px;font-size:12px;font-weight:normal;color:#ef5350;letter-spacing:-0.097px">1800.00</span><span style="left:384.56px;top:35.00px;font-size:12px;font-weight:normal;color:#131722;letter-spacing:-0.360px">C</span><span style="left:392.36px;top:35.00px;font-size:12px;font-weight:normal;color:#ef5350;letter-spacing:-0.097px">1936.64</span><span style="left:441.06px;top:35.00px;font-size:12px;font-weight:normal;color:#ef5350;letter-spacing:-0.254px">−148.35 (−7.12%)</span><span style="left:17.46px;top:52.00px;font-size:12px;font-weight:normal;color:#131722;letter-spacing:0.008px">Vol</span><span style="left:40.86px;top:52.00px;font-size:12px;font-weight:normal;color:#ef5350;letter-spacing:-0.049px">2.15M</span><span style="left:1765.46px;top:76.00px;font-size:12px;font-weight:normal;color:#131722;letter-spacing:-0.011px">5000.00</span><span style="left:1765.46px;top:117.00px;font-size:12px;font-weight:normal;color:#131722;letter-spacing:-0.011px">4800.00</span><span style="left:1765.46px;top:158.00px;font-size:12px;font-weight:normal;color:#131722;letter-spacing:-0.011px">4600.00</span><span style="left:1765.46px;top:198.00px;font-size:12px;font-weight:normal;color:#131722;letter-spacing:-0.011px">4400.00</span><span style="left:1765.46px;top:239.00px;font-size:12px;font-weight:normal;color:#131722;letter-spacing:-0.011px">4200.00</span><span style="left:1765.46px;top:280.00px;font-size:12px;font-weight:normal;color:#131722;letter-spacing:-0.011px">4000.00</span><span style="left:1765.46px;top:320.00px;font-size:12px;font-weight:normal;color:#131722;letter-spacing:-0.011px">3800.00</span><span style="left:1765.46px;top:361.00px;font-size:12px;font-weight:normal;color:#131722;letter-spacing:-0.011px">3600.00</span><span style="left:1765.46px;top:402.00px;font-size:12px;font-weight:normal;color:#131722;letter-spacing:-0.011px">3400.00</span><span style="left:1765.46px;top:442.00px;font-size:12px;font-weight:normal;color:#131722;letter-spacing:-0.011px">3200.00</span><span style="left:1765.46px;top:483.00px;font-size:12px;font-weight:normal;color:#131722;letter-spacing:-0.011px">3000.00</span><span style="left:1765.46px;top:524.00px;font-size:12px;font-weight:normal;color:#131722;letter-spacing:-0.011px">2800.00</span><span style="left:1765.46px;top:564.00px;font-size:12px;font-weight:normal;color:#131722;letter-spacing:-0.011px">2600.00</span><span style="left:1765.46px;top:605.00px;font-size:12px;font-weight:normal;color:#131722;letter-spacing:-0.011px">2400.00</span><span style="left:1765.46px;top:646.00px;font-size:12px;font-weight:normal;color:#131722;letter-spacing:-0.011px">2200.00</span><span style="left:1765.46px;top:686.00px;font-size:12px;font-weight:normal;color:#131722;letter-spacing:-0.011px">2000.00</span><span style="left:1765.46px;top:727.00px;font-size:12px;font-weight:normal;color:#131722;letter-spacing:-0.011px">1800.00</span><span style="left:1765.46px;top:768.00px;font-size:12px;font-weight:normal;color:#131722;letter-spacing:-0.011px">1600.00</span><span style="left:1765.46px;top:808.00px;font-size:12px;font-weight:normal;color:#131722;letter-spacing:-0.011px">1400.00</span><span style="left:1765.46px;top:36.00px;font-size:12px;font-weight:normal;color:#131722;letter-spacing:0.625px">5</span><span style="left:93.50px;top:861.00px;font-size:12px;font-weight:normal;color:#131722;letter-spacing:-0.467px">Apr</span><span style="left:208.66px;top:861.00px;font-size:12px;font-weight:normal;color:#131722;letter-spacing:-0.567px">May</span><span style="left:331.20px;top:861.00px;font-size:12px;font-weight:normal;color:#131722;letter-spacing:-0.484px">Jun</span><span style="left:450.16px;top:861.00px;font-size:12px;font-weight:normal;color:#131722;letter-spacing:-0.384px">Jul</span><span style="left:568.26px;top:861.00px;font-size:12px;font-weight:normal;color:#131722;letter-spacing:-0.534px">Aug</span><span style="left:689.22px;top:861.00px;font-size:12px;font-weight:normal;color:#131722;letter-spacing:-0.534px">Sep</span><span style="left:807.55px;top:861.00px;font-size:12px;font-weight:normal;color:#131722;letter-spacing:-0.467px">Oct</span><span style="left:927.24px;top:861.00px;font-size:12px;font-weight:normal;color:#131722;letter-spacing:-0.534px">Nov</span><span style="left:1044.30px;top:861.00px;font-size:12px;font-weight:normal;color:#131722;letter-spacing:-0.534px">Dec</span><span style="left:1161.06px;top:861.00px;font-size:12px;font-weight:bold;color:#131722;letter-spacing:0.652px">2022</span><span style="left:1286.53px;top:861.00px;font-size:12px;font-weight:normal;color:#131722;letter-spacing:-0.517px">Feb</span><span style="left:1395.79px;top:861.00px;font-size:12px;font-weight:normal;color:#131722;letter-spacing:-0.517px">Mar</span><span style="left:1517.69px;top:861.00px;font-size:12px;font-weight:normal;color:#131722;letter-spacing:-0.467px">Apr</span><span style="left:1632.85px;top:861.00px;font-size:12px;font-weight:normal;color:#131722;letter-spacing:-0.567px">May</span><span style="left:1699.16px;top:700.00px;font-size:12px;font-weight:bold;color:#ffffff;letter-spacing:0.000px;transform-origin:0 0;transform:scaleX(0.8737)">ETHUSDT</span><span style="left:1765.66px;top:700.00px;font-size:12px;font-weight:bold;color:#ffffff;letter-spacing:-0.054px">1936.64</span><span style="left:1765.16px;top:714.00px;font-size:12px;font-weight:bold;color:#fbd3d6;letter-spacing:0.042px">04:11:16</span><span style="left:1775.86px;top:36.00px;font-size:12px;font-weight:normal;color:#131722;letter-spacing:0.000px;transform-origin:0 0;transform:scaleX(0.8666)">USDT</span><span style="left:32.76px;top:893.00px;font-size:12px;font-weight:bold;color:#d1d4dc;letter-spacing:0.077px">TradingView</span></div>
</body></html>
